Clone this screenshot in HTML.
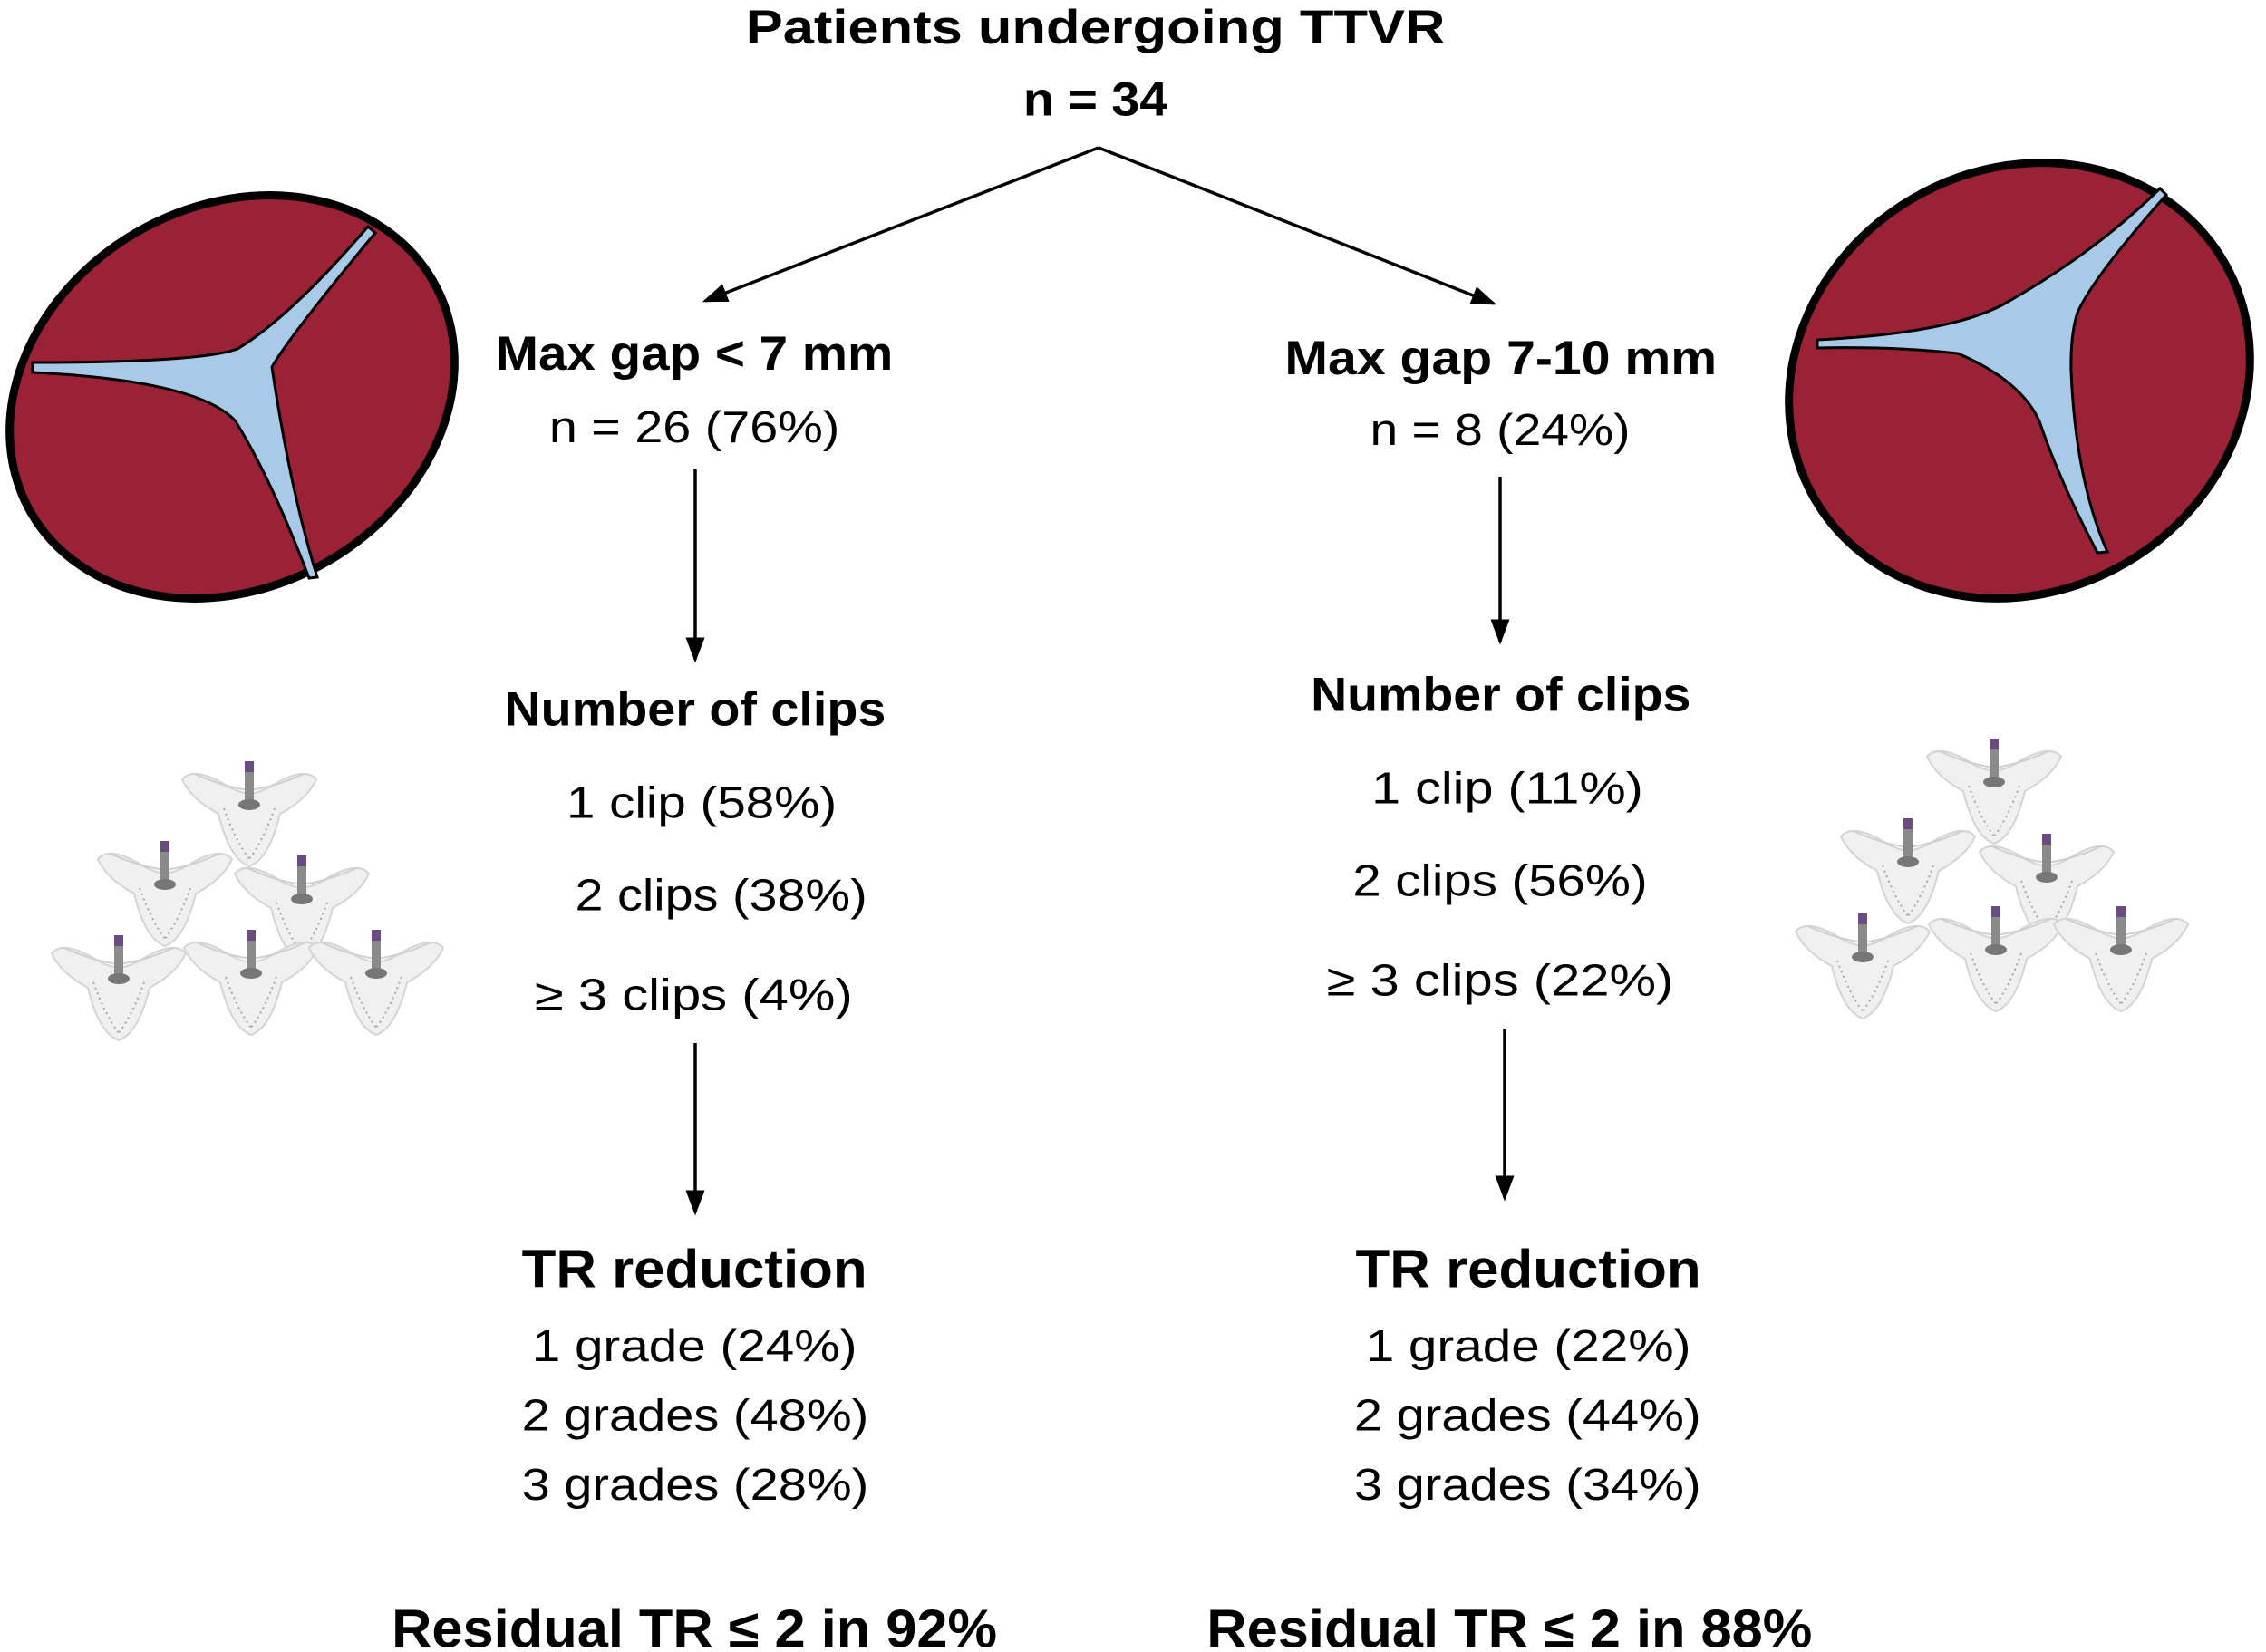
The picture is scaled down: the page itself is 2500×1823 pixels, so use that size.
<!DOCTYPE html>
<html><head><meta charset="utf-8"><style>html,body{margin:0;padding:0;background:#fff}svg{display:block}</style></head>
<body>
<svg width="2500" height="1823" viewBox="0 0 2500 1823" xmlns="http://www.w3.org/2000/svg">
<defs>
<marker id="ah" markerWidth="8" markerHeight="6" refX="7" refY="3" orient="auto" markerUnits="strokeWidth"><path d="M0,0 L8,3 L0,6 Z" fill="#000"/></marker>
<g id="clip">
<path d="M-74,12 Q-62,-2 -30,16 Q-15,26 0,28 Q15,26 30,16 Q62,-2 74,12 Q64,34 34,50 Q22,100 0,108 Q-22,100 -34,50 Q-64,34 -74,12Z" fill="#f0f0f0" stroke="#d4d4d4" stroke-width="2"/>
<path d="M-28,44 Q-15,80 0,100 M28,44 Q15,80 0,100" fill="none" stroke="#a8a8a8" stroke-width="2" stroke-dasharray="2,4"/>
<path d="M-60,6 Q-30,20 0,24 Q30,20 60,6" fill="none" stroke="#cfcfcf" stroke-width="2"/>
<rect x="-5" y="-8" width="10" height="44" fill="#8a8a8a"/>
<rect x="-5" y="-8" width="10" height="12" fill="#6b4c82"/>
<ellipse cx="0" cy="40" rx="12" ry="6" fill="#777"/>
</g>
</defs>
<rect width="2500" height="1823" fill="#fff"/>

<g>
<ellipse cx="256" cy="438" rx="256" ry="210" transform="rotate(-30 256 438)" fill="#9b2236" stroke="#000" stroke-width="9"/>
<path d="M36,400 Q220,400 262,385 Q320,350 406,250 L414,257 Q320,370 300,405 Q320,540 350,637 L341,638 Q300,530 260,465 Q220,420 36,411 Z" fill="#a9c9e9" stroke="#000" stroke-width="3"/>
</g>
<g>
<ellipse cx="2228" cy="420" rx="261" ry="233" transform="rotate(-30 2228 420)" fill="#9b2236" stroke="#000" stroke-width="9"/>
<path d="M2005,375 Q2150,368 2210,336 Q2310,280 2383,208 L2390,215 Q2310,305 2292,345 Q2284,370 2285,410 Q2290,530 2325,609 L2314,610 Q2272,530 2250,465 Q2230,420 2160,390 Q2090,382 2005,384 Z" fill="#a9c9e9" stroke="#000" stroke-width="3"/>
</g>

<g>
<use href="#clip" x="275" y="848"/>
<use href="#clip" x="182" y="936"/>
<use href="#clip" x="333" y="952"/>
<use href="#clip" x="131" y="1040"/>
<use href="#clip" x="277" y="1034"/>
<use href="#clip" x="415" y="1034"/>
</g>
<g>
<use href="#clip" x="2200" y="823"/>
<use href="#clip" x="2105" y="911"/>
<use href="#clip" x="2258" y="928"/>
<use href="#clip" x="2055" y="1016"/>
<use href="#clip" x="2202" y="1008"/>
<use href="#clip" x="2340" y="1008"/>
</g>

<g stroke="#000" stroke-width="3.5" fill="none">
<line x1="1212" y1="163" x2="778" y2="332" marker-end="url(#ah)"/>
<line x1="1212" y1="163" x2="1648" y2="335" marker-end="url(#ah)"/>
<line x1="767" y1="518" x2="767" y2="728" marker-end="url(#ah)"/>
<line x1="1655" y1="526" x2="1655" y2="708" marker-end="url(#ah)"/>
<line x1="767" y1="1151" x2="767" y2="1338" marker-end="url(#ah)"/>
<line x1="1660" y1="1135" x2="1660" y2="1322" marker-end="url(#ah)"/>
</g>

<g transform="scale(1.5944)" font-family="'Liberation Sans', sans-serif" fill="#000" font-size="31">
<g font-weight="bold" font-size="33">
<text x="516" y="30" textLength="484" lengthAdjust="spacingAndGlyphs">Patients undergoing TTVR</text>
<text x="708" y="80" textLength="100" lengthAdjust="spacingAndGlyphs">n = 34</text>
<text x="343" y="256" textLength="275" lengthAdjust="spacingAndGlyphs">Max gap &lt; 7 mm</text>
<text x="889" y="259" textLength="299" lengthAdjust="spacingAndGlyphs">Max gap 7-10 mm</text>
<text x="349" y="502" textLength="264" lengthAdjust="spacingAndGlyphs">Number of clips</text>
<text x="907" y="492" textLength="263" lengthAdjust="spacingAndGlyphs">Number of clips</text>
</g>
<text x="380" y="306" textLength="201" lengthAdjust="spacingAndGlyphs">n = 26 (76%)</text>
<text x="948" y="308" textLength="180" lengthAdjust="spacingAndGlyphs">n = 8 (24%)</text>
<text x="392" y="566" textLength="187" lengthAdjust="spacingAndGlyphs">1 clip (58%)</text>
<text x="398" y="630" textLength="202" lengthAdjust="spacingAndGlyphs">2 clips (38%)</text>
<text x="370" y="699" textLength="220" lengthAdjust="spacingAndGlyphs">≥ 3 clips (4%)</text>
<text x="949" y="556" textLength="188" lengthAdjust="spacingAndGlyphs">1 clip (11%)</text>
<text x="936" y="620" textLength="204" lengthAdjust="spacingAndGlyphs">2 clips (56%)</text>
<text x="918" y="689" textLength="240" lengthAdjust="spacingAndGlyphs">≥ 3 clips (22%)</text>
<g font-weight="bold" font-size="37">
<text x="361" y="891" textLength="239" lengthAdjust="spacingAndGlyphs">TR reduction</text>
<text x="938" y="891" textLength="239" lengthAdjust="spacingAndGlyphs">TR reduction</text>
<text x="271" y="1140" textLength="419" lengthAdjust="spacingAndGlyphs">Residual TR ≤ 2 in 92%</text>
<text x="835" y="1140" textLength="419" lengthAdjust="spacingAndGlyphs">Residual TR ≤ 2 in 88%</text>
</g>
<text x="368" y="942" textLength="225" lengthAdjust="spacingAndGlyphs">1 grade (24%)</text>
<text x="361" y="990" textLength="240" lengthAdjust="spacingAndGlyphs">2 grades (48%)</text>
<text x="361" y="1038" textLength="240" lengthAdjust="spacingAndGlyphs">3 grades (28%)</text>
<text x="945" y="942" textLength="225" lengthAdjust="spacingAndGlyphs">1 grade (22%)</text>
<text x="937" y="990" textLength="240" lengthAdjust="spacingAndGlyphs">2 grades (44%)</text>
<text x="937" y="1038" textLength="240" lengthAdjust="spacingAndGlyphs">3 grades (34%)</text>
</g>
</svg>
</body></html>
